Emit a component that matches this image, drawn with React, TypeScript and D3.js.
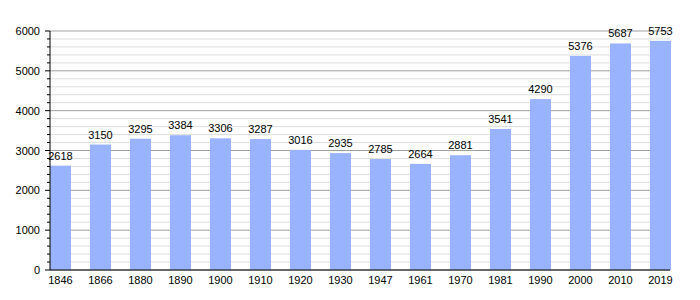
import React from "react";
import * as d3 from "d3";

const years = ["1846","1866","1880","1890","1900","1910","1920","1930","1947","1961","1970","1981","1990","2000","2010","2019"];
const population = [2618,3150,3295,3384,3306,3287,3016,2935,2785,2664,2881,3541,4290,5376,5687,5753];
const yTicks = [0,1000,2000,3000,4000,5000,6000];

export default function App() {
  const W = 700, H = 300;
  const left = 50, gridRight = 670, top = 31, bottom = 270;
  const x = d3.scaleBand<string>().domain(years).range([left, 671]).paddingInner(0.475).paddingOuter(0);
  const y = d3.scaleLinear().domain([0, 6000]).range([bottom, top]);
  const minor = d3.range(0, 6001, 200).filter(v => v % 1000 !== 0);
  const font = "'Liberation Sans', Arial, sans-serif";
  return (
    <svg width={W} height={H} style={{ position: "absolute", left: 0, top: 0 }} fontFamily={font}>
      <rect width={W} height={H} fill="#fff" />
      {minor.map(v => (
        <line key={"m"+v} x1={left} x2={gridRight} y1={y(v)} y2={y(v)} stroke="#dedede" strokeWidth={1} />
      ))}
      {yTicks.map(v => (
        <line key={"g"+v} x1={left} x2={gridRight} y1={y(v)} y2={y(v)} stroke="#a0a0a0" strokeWidth={1} />
      ))}
      {years.map((yr, i) => (
        <rect key={yr} x={x(yr)} y={y(population[i])} width={x.bandwidth()} height={bottom - y(population[i])} fill="#99b3ff" />
      ))}
      <line x1={left} x2={left} y1={top} y2={bottom} stroke="#000" strokeWidth={1} />
      <line x1={left} x2={gridRight} y1={bottom} y2={bottom} stroke="#000" strokeWidth={1} />
      {yTicks.map(v => (
        <g key={"t"+v}>
          <line x1={left - 5} x2={left} y1={y(v)} y2={y(v)} stroke="#000" />
          <text x={left - 10} y={y(v) + 4} fontSize={11} textAnchor="end" fill="#000">{v}</text>
        </g>
      ))}
      {minor.map(v => (
        <line key={"mt"+v} x1={left - 3} x2={left} y1={y(v)} y2={y(v)} stroke="#000" />
      ))}
      {years.map((yr, i) => (
        <g key={"l"+yr}>
          <text x={(x(yr) ?? 0) + x.bandwidth() / 2} y={y(population[i]) - 6} fontSize={11} textAnchor="middle" fill="#000">{population[i]}</text>
          <text x={(x(yr) ?? 0) + x.bandwidth() / 2} y={284} fontSize={11} textAnchor="middle" fill="#000">{yr}</text>
        </g>
      ))}
    </svg>
  );
}
